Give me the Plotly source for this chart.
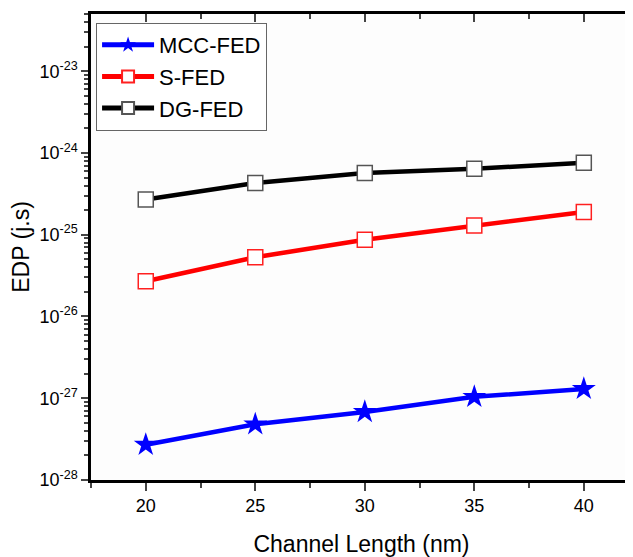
import plotly.graph_objects as go

channel_length = [20, 25, 30, 35, 40]
mcc_fed = [2.7e-28, 4.8e-28, 6.8e-28, 1.04e-27, 1.3e-27]
s_fed = [2.7e-26, 5.3e-26, 8.7e-26, 1.3e-25, 1.9e-25]
dg_fed = [2.7e-25, 4.3e-25, 5.7e-25, 6.4e-25, 7.6e-25]

y_tickvals = [1e-28, 1e-27, 1e-26, 1e-25, 1e-24, 1e-23]
y_ticktext = ["10<sup>-28</sup>", "10<sup>-27</sup>", "10<sup>-26</sup>",
              "10<sup>-25</sup>", "10<sup>-24</sup>", "10<sup>-23</sup>"]
x_tickvals = [20, 25, 30, 35, 40]

FONT = "Liberation Sans, Arial, sans-serif"
XR = [17.5, 42.2]
YR = [-28, -22.3]

fig = go.Figure()
fig.add_trace(go.Scatter(
    x=channel_length, y=mcc_fed, name="MCC-FED", mode="lines+markers",
    line=dict(color="#0000ff", width=4.5),
    marker=dict(symbol="star", size=18, color="#0000ff", line=dict(width=0))))
fig.add_trace(go.Scatter(
    x=channel_length, y=s_fed, name="S-FED", mode="lines+markers",
    line=dict(color="#ff0000", width=4.5),
    marker=dict(symbol="square", size=15, color="white", line=dict(color="#ff2020", width=1.5))))
fig.add_trace(go.Scatter(
    x=channel_length, y=dg_fed, name="DG-FED", mode="lines+markers",
    line=dict(color="#000000", width=4.5),
    marker=dict(symbol="square", size=15, color="white", line=dict(color="#555555", width=1.5))))
# invisible helper trace for mirrored axes
fig.add_trace(go.Scatter(x=[30], y=[1e-25], xaxis="x2", yaxis="y2", mode="markers",
                         marker=dict(opacity=0), showlegend=False, hoverinfo="skip"))

fig.update_layout(
    width=625, height=549,
    margin=dict(l=83, r=1, t=6, b=77),
    paper_bgcolor="white", plot_bgcolor="#fdfdfd",
    font=dict(family=FONT, size=18, color="black"),
    showlegend=True,
    legend=dict(x=0.009, y=0.981, xanchor="left", yanchor="top",
                bgcolor="white", bordercolor="#666666", borderwidth=1.2,
                font=dict(size=22, family=FONT), itemwidth=52,
                tracegroupgap=0, itemsizing="constant"),
    xaxis=dict(range=XR, tickvals=x_tickvals, ticks="outside", ticklen=8, tickwidth=2,
               showline=True, linecolor="black", linewidth=2.5, showgrid=False, zeroline=False,
               tickfont=dict(size=18), automargin=False,
               minor=dict(ticks="outside", ticklen=5, tickwidth=2, dtick=2.5, tick0=20, showgrid=False),
               title=dict(text="Channel Length (nm)", font=dict(size=23), standoff=24)),
    yaxis=dict(type="log", range=YR, tickvals=y_tickvals, ticktext=y_ticktext,
               ticks="outside", ticklen=7, tickwidth=2,
               showline=True, linecolor="black", linewidth=2.5, showgrid=False, zeroline=False,
               tickfont=dict(size=18), automargin=False,
               minor=dict(ticks="outside", ticklen=4, tickwidth=1.5, dtick="D1", showgrid=False),
               title=dict(text="EDP (j.s)", font=dict(size=23), standoff=10)),
    xaxis2=dict(overlaying="x", side="top", range=XR, tickvals=x_tickvals, showticklabels=False,
                ticks="inside", ticklen=8, tickwidth=2, showline=True, linecolor="black",
                linewidth=2.5, showgrid=False, zeroline=False, automargin=False,
                minor=dict(ticks="inside", ticklen=5, tickwidth=2, dtick=2.5, tick0=20, showgrid=False)),
    yaxis2=dict(overlaying="y", side="right", type="log", range=YR, tickvals=y_tickvals,
                showticklabels=False, ticks="inside", ticklen=4, tickwidth=2, showline=False,
                showgrid=False, zeroline=False, automargin=False),
)

fig.write_html("out.html")
